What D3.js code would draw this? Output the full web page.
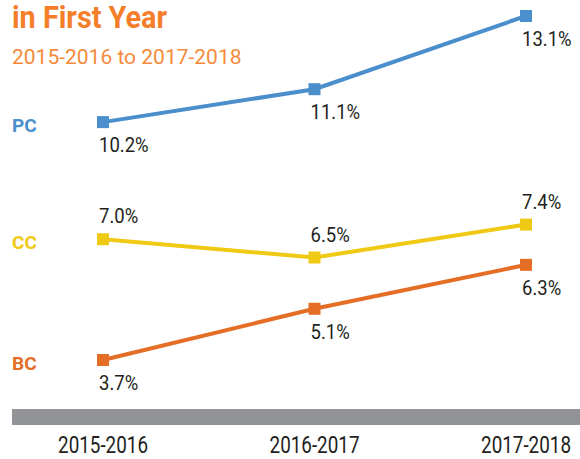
<!DOCTYPE html>
<html>
<head>
<meta charset="utf-8">
<script src="https://cdn.jsdelivr.net/npm/d3@7"></script>
<style>
  html, body { margin: 0; padding: 0; background: #fff; }
  svg { display: block; font-family: Roboto, "Noto Sans", sans-serif; }
</style>
</head>
<body>
<div id="chart"></div>
<script>
// First-year rate by college, three years

const years = ["2015-2016", "2016-2017", "2017-2018"];
const colleges = ["PC", "CC", "BC"];
const pcValues = [10.2, 11.1, 13.1];
const ccValues = [7.0, 6.5, 7.4];
const bcValues = [3.7, 5.1, 6.3];

const colors = { PC: "#4a8ecb", CC: "#efc914", BC: "#e46e26" };
const labelSide = { PC: "below", CC: "above", BC: "below" };

const series = colleges.map((c, i) => ({
  name: c,
  values: [pcValues, ccValues, bcValues][i].map((v, j) => ({ year: years[j], value: v }))
}));

const W = 580, H = 459;
const svg = d3.select("#chart").append("svg").attr("width", W).attr("height", H);

const x = d3.scalePoint().domain(years).range([103, 526]);
const y = d3.scaleLinear()
  .domain([d3.min(bcValues), d3.max(pcValues)])
  .range([360, 16]);

// condensed-looking text helper
function ctext(parent, tx, ty, sx) {
  return parent.append("text").attr("transform", `translate(${tx},${ty}) scale(${sx},1)`);
}

// title (top line is cut off in the original)
ctext(svg, 12, 28, 0.9).text("in First Year")
  .attr("font-size", 32).attr("font-weight", 700).attr("fill", "#f47e2a");
svg.append("text").attr("x", 12).attr("y", 64).text("2015-2016 to 2017-2018")
  .attr("font-size", 21).attr("fill", "#f58a3a");

// gray baseline band
svg.append("rect").attr("x", 12).attr("y", 409).attr("width", W - 12).attr("height", 16)
  .attr("fill", "#929396");

// x labels
years.forEach(yr => {
  ctext(svg, x(yr), 453, 0.82).text(yr)
    .attr("text-anchor", "middle").attr("font-size", 23).attr("fill", "#231f20");
});

const line = d3.line().x(d => x(d.year)).y(d => y(d.value));

series.forEach(s => {
  const g = svg.append("g");
  const c = colors[s.name];

  g.append("path").datum(s.values).attr("d", line)
    .attr("fill", "none").attr("stroke", c).attr("stroke-width", 4);

  g.selectAll("rect").data(s.values).enter().append("rect")
    .attr("x", d => x(d.year) - 6).attr("y", d => y(d.value) - 6)
    .attr("width", 12).attr("height", 12).attr("fill", c);

  s.values.forEach(d => {
    const dy = labelSide[s.name] === "below" ? 30 : -16;
    ctext(g, x(d.year) - 4, y(d.value) + dy, 0.88).text(d.value.toFixed(1) + "%")
      .attr("font-size", 21).attr("fill", "#231f20");
  });

  // series name at left
  g.append("text").attr("x", 12).attr("y", y(s.values[0].value) + 10)
    .text(s.name).attr("font-size", 19).attr("font-weight", 700).attr("fill", c);
});
</script>
</body>
</html>
